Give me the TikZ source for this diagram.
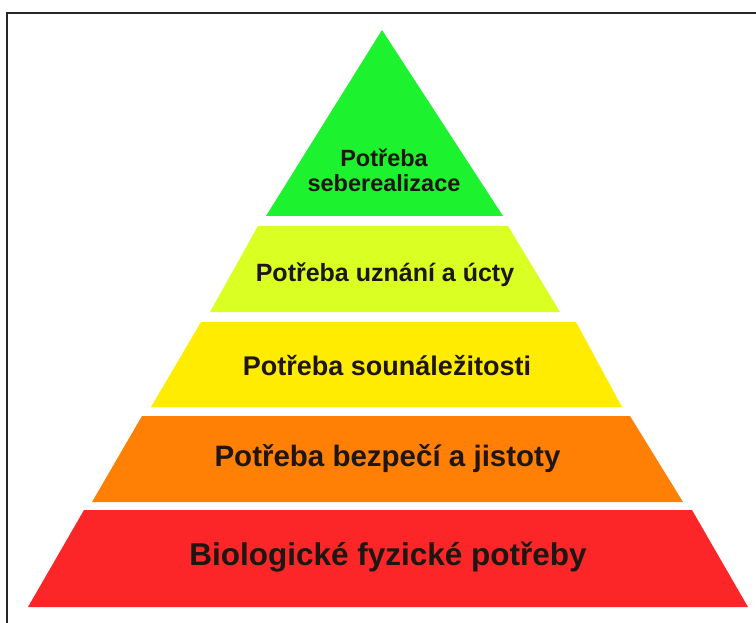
\documentclass[tikz,border=0pt]{standalone}
\usepackage{fontspec}
\setmainfont{Liberation Sans}
\definecolor{cgreen}{RGB}{28,242,46}
\definecolor{cyg}{RGB}{218,255,34}
\definecolor{cyellow}{RGB}{255,236,0}
\definecolor{corange}{RGB}{255,128,4}
\definecolor{cred}{RGB}{252,38,40}
\definecolor{ctext}{RGB}{30,22,18}
\tikzset{
  layer/.style={draw=none},
  lbl/.style={anchor=base, inner sep=0pt, text=ctext, font=\bfseries},
}
\begin{document}
\begin{tikzpicture}[x=1pt,y=-1pt]
\useasboundingbox (0,0) rectangle (756,623);
\fill[white] (0,0) rectangle (756,623);
\draw[line width=2pt, color=black!85] (7,623) -- (7,13) -- (756,13);
% layers
\fill[layer, cgreen] (382,30) -- (503,216) -- (266,216) -- cycle;
\fill[layer, cyg] (258,226) -- (508,226) -- (560,312) -- (210,312) -- cycle;
\fill[layer, cyellow] (201,322) -- (576,322) -- (622,407) -- (151,407) -- cycle;
\fill[layer, corange] (142,416) -- (630,416) -- (683,502) -- (92,502) -- cycle;
\fill[layer, cred] (84,510) -- (692,510) -- (748,607) -- (28,607) -- cycle;
% labels
\node[lbl, font=\bfseries\fontsize{23.5}{25}\selectfont] (t1a) at (384,167) {Potřeba};
\node[lbl, font=\bfseries\fontsize{23.5}{25}\selectfont] (t1b) at (384,192) {seberealizace};
\node[lbl, font=\bfseries\fontsize{25}{27}\selectfont] (t2) at (385,282) {Potřeba uznání a úcty};
\node[lbl, font=\bfseries\fontsize{27}{29}\selectfont] (t3) at (387,375) {Potřeba sounáležitosti};
\node[lbl, font=\bfseries\fontsize{29.5}{31}\selectfont] (t4) at (387.5,466) {Potřeba bezpečí a jistoty};
\node[lbl, font=\bfseries\fontsize{31.5}{33}\selectfont] (t5) at (388,565) {Biologické fyzické potřeby};
\end{tikzpicture}
\end{document}
